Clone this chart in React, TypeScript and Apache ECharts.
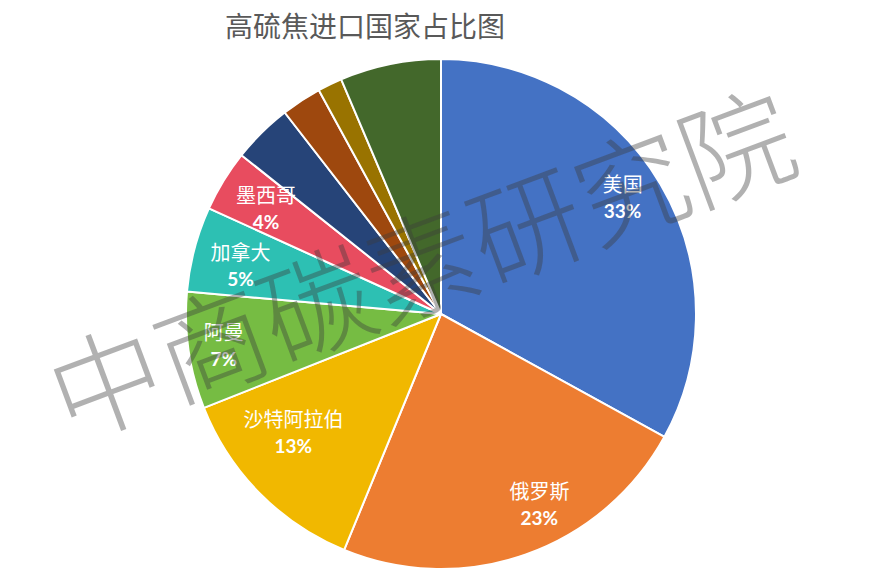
import React, { useEffect, useRef } from "react";
import * as echarts from "echarts";

const titleText = "高硫焦进口国家占比图";
const watermarkText = "中商碳素研究院";
const countries = ["美国", "俄罗斯", "沙特阿拉伯", "阿曼", "加拿大", "墨西哥", "其他A", "其他B", "其他C", "其他D"];
const shares = [33.0, 23.2, 12.8, 7.4, 5.4, 3.9, 3.8, 2.55, 1.55, 6.4];
const showLabel = [true, true, true, true, true, true, false, false, false, false];
const colors = ["#4472C4", "#ED7D31", "#F1B800", "#76BC43", "#2DC0B3", "#E84C5F", "#264478", "#9E480E", "#997300", "#43682B"];
// small label nudges (px) to mimic the original's label placement
const labelNudge = [[-3, -8], [27, -12], [5, -33], [-5, 0], [7, 6], [8, 6], [0, 0], [0, 0], [0, 0], [0, 0]];

function nudgePadding(n: number[]) {
  const [dx, dy] = n;
  return [dy > 0 ? 2 * dy : 0, dx < 0 ? -2 * dx : 0, dy < 0 ? -2 * dy : 0, dx > 0 ? 2 * dx : 0];
}

export default function App() {
  const ref = useRef<HTMLDivElement>(null);
  useEffect(() => {
    if (!ref.current) return;
    const chart = echarts.init(ref.current, undefined, { renderer: "svg" });
    const baseData = countries.map((name, i) => ({
      name,
      value: shares[i],
      itemStyle: { color: colors[i] },
    }));
    const labelData = countries.map((name, i) => ({
      name,
      value: shares[i],
      label: { show: showLabel[i], padding: nudgePadding(labelNudge[i]) },
    }));
    const center = [441, 314];
    const R = 255;
    chart.setOption({
      animation: false,
      backgroundColor: "#ffffff",
      title: {
        text: titleText,
        left: 360,
        top: 6,
        textAlign: "center",
        textStyle: {
          fontSize: 28,
          fontWeight: "normal",
          color: "#595959",
          fontFamily: '"Noto Sans CJK SC", sans-serif',
        },
      },
      series: [
        {
          type: "pie",
          center,
          radius: [0, R],
          startAngle: 90,
          clockwise: true,
          silent: true,
          label: { show: false },
          labelLine: { show: false },
          itemStyle: { borderColor: "#ffffff", borderWidth: 2 },
          data: baseData,
          z: 2,
        },
        {
          type: "pie",
          center,
          radius: [Math.round(R * 0.66), R],
          startAngle: 90,
          clockwise: true,
          silent: true,
          percentPrecision: 0,
          itemStyle: { color: "rgba(0,0,0,0)", borderWidth: 0 },
          labelLine: { show: false },
          label: {
            position: "inside",
            formatter: "{n|{b}}\n{p|{d}%}",
            rich: {
              n: {
                fontSize: 20,
                color: "#ffffff",
                fontFamily: '"Noto Sans CJK SC", sans-serif',
                lineHeight: 27,
              },
              p: {
                fontSize: 19,
                fontWeight: "bold",
                color: "#ffffff",
                fontFamily: "Lato, sans-serif",
                lineHeight: 27,
              },
            },
          },
          data: labelData,
          z: 3,
        },
      ],
      graphic: [
        {
          type: "text",
          x: 419,
          y: 259,
          rotation: (20.5 * Math.PI) / 180,
          silent: true,
          z: 100,
          style: {
            text: watermarkText,
            fontSize: 112,
            fontWeight: 300,
            fontFamily: '"Noto Sans CJK SC", sans-serif',
            fill: "rgba(60,60,60,0.4)",
            align: "center",
            verticalAlign: "middle",
          },
        },
      ],
    });
    return () => chart.dispose();
  }, []);
  return (
    <div
      ref={ref}
      style={{ position: "absolute", left: 0, top: 0, width: 873, height: 581 }}
    />
  );
}
